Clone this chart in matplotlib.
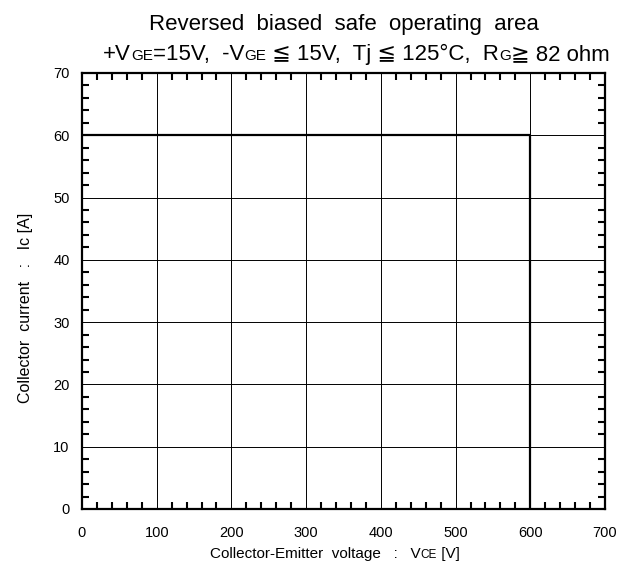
import matplotlib
matplotlib.use("Agg")
import matplotlib.pyplot as plt
from matplotlib.ticker import MultipleLocator

plt.rcParams['font.family'] = ['Liberation Sans', 'DejaVu Sans']

# RBSOA boundary
vce = [0, 600, 600]
ic = [60, 60, 0]

x_ticks = [0, 100, 200, 300, 400, 500, 600, 700]
y_ticks = [0, 10, 20, 30, 40, 50, 60, 70]

fig = plt.figure(figsize=(6.23, 5.64), dpi=100)
ax = fig.add_axes([82 / 623, 1 - 509 / 564, (605 - 82) / 623, (509 - 73) / 564])

ax.plot(vce, ic, color='black', linewidth=1.6)

ax.set_xlim(0, 700)
ax.set_ylim(0, 70)
ax.set_xticks(x_ticks)
ax.set_yticks(y_ticks)
ax.xaxis.set_minor_locator(MultipleLocator(20))
ax.yaxis.set_minor_locator(MultipleLocator(2))
ax.tick_params(which='both', direction='in', top=True, right=True, labelsize=10.5)
ax.tick_params(axis='x', which='major', length=0, pad=12)
ax.tick_params(axis='y', which='major', length=0, pad=9)
ax.tick_params(which='minor', length=5, width=1.5)
ax.grid(True, which='major', color='black', linewidth=0.7)
for s in ax.spines.values():
    s.set_linewidth(1.6)

renderer = fig.canvas.get_renderer()


def draw_pieces(pieces, x0, y0):
    # left-to-right run of text with small-caps style subscripts
    xpos = x0
    for txt, size in pieces:
        t = fig.text(xpos / 623, 1 - y0 / 564, txt, ha='left', va='baseline', fontsize=size)
        xpos += t.get_window_extent(renderer=renderer).width


# x axis label
draw_pieces([('Collector-Emitter  voltage   :   V', 11), ('CE', 8.5), (' [V]', 11)], 210, 558)

# y axis label
fig.text(26 / 623, 1 - 308 / 564, 'Collector  current   :   Ic [A]', rotation=90,
         ha='center', va='center', fontsize=11.5)

# title
fig.text(344 / 623, 1 - 30 / 564, 'Reversed  biased  safe  operating  area', ha='center', va='baseline', fontsize=16)

draw_pieces([('+V', 16), ('GE', 11), ('=15V,  -V', 16), ('GE', 11), (' \u2266 15V,  Tj \u2266 125\u00b0C,  R', 16),
             ('G', 11), ('\u2267 82 ohm', 16)], 103, 60)

fig.savefig('out.png', dpi=100)
